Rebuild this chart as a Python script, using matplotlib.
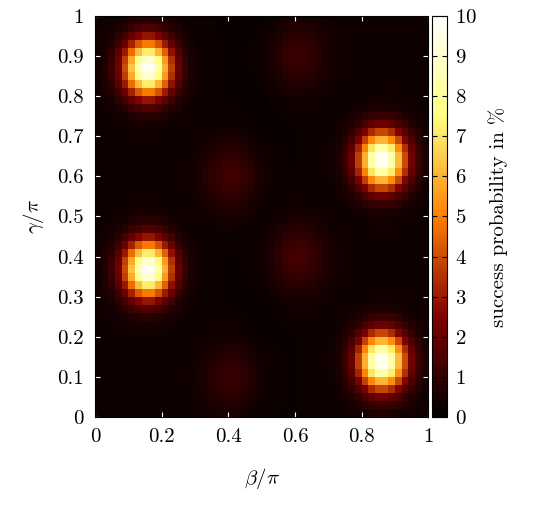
import numpy as np
from matplotlib import pyplot as plt

plt.rcParams['font.family'] = 'serif'
plt.rcParams['font.serif'] = ['cmr10']
plt.rcParams['mathtext.fontset'] = 'cm'
plt.rcParams['axes.formatter.use_mathtext'] = True
plt.rcParams['font.size'] = 15

# blobs: beta/pi, gamma/pi, peak height (%), width
peak_beta = [0.16, 0.86, 0.16, 0.86, 0.42, 0.60, 0.42, 0.60]
peak_gamma = [0.87, 0.64, 0.37, 0.14, 0.60, 0.40, 0.10, 0.90]
peak_height = [10.0, 10.0, 10.0, 10.0, 1.5, 1.5, 1.2, 1.2]
peak_width = [0.05, 0.05, 0.05, 0.05, 0.06, 0.06, 0.06, 0.06]
background = 0.3

n = 50
edges = np.linspace(0, 1, n + 1)
mid = (edges[:-1] + edges[1:]) / 2
B, G = np.meshgrid(mid, mid)
Z = np.full_like(B, background)
for b, g, h, w in zip(peak_beta, peak_gamma, peak_height, peak_width):
    Z += h * np.exp(-((B - b) ** 2 + (G - g) ** 2) / (2 * w ** 2))
# darker bands between blobs
Z *= 0.4 + 0.6 * np.abs(np.sin(np.pi * (B - 0.5))) ** 0.5
Z = np.clip(Z, 0, 10)

fig = plt.figure(figsize=(5.4, 5.13), dpi=100)
ax = fig.add_axes([0.176, 0.187, 0.617, 0.782])
mesh = ax.pcolormesh(edges, edges, Z, cmap='afmhot', vmin=0, vmax=10)
ax.set_xlim(0, 1)
ax.set_ylim(0, 1)
ax.set_xticks(np.arange(0, 1.01, 0.2))
ax.set_xticklabels(['0', '0.2', '0.4', '0.6', '0.8', '1'])
ax.set_yticks(np.arange(0, 1.01, 0.1))
ax.set_yticklabels(['0'] + ['%.1f' % v for v in np.arange(0.1, 0.95, 0.1)] + ['1'])
ax.tick_params(direction='in', top=True, right=True, color='white', pad=8)
ax.set_xlabel(r'$\beta/\pi$', labelpad=14)
ax.set_ylabel(r'$\gamma/\pi$', labelpad=8)

cax = fig.add_axes([0.8, 0.187, 0.028, 0.782])
cb = fig.colorbar(mesh, cax=cax, ticks=range(0, 11))
cb.ax.tick_params(direction='in', left=True, right=True, pad=6)
cb.set_label('success probability in %', labelpad=8)

fig.savefig('out.png')
